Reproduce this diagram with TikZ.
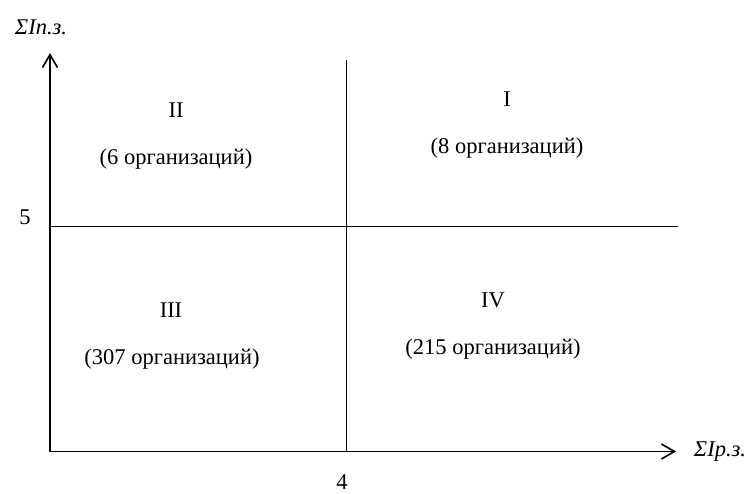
\documentclass[tikz,border=0pt]{standalone}
\usepackage{fontspec}
\setmainfont{Liberation Serif}
\usetikzlibrary{arrows.meta}
\begin{document}
\begin{tikzpicture}[x=1pt,y=-1pt,
  axis/.style={line width=1.8pt,-{Straight Barb[length=13pt,width=15pt,line width=1.6pt]}},
  divider/.style={line width=1.6pt},
  txt/.style={inner sep=0pt,font=\fontsize{22.5}{25}\selectfont},
  itxt/.style={inner sep=0pt,font=\fontsize{22.5}{25}\selectfont\itshape}]
\useasboundingbox (0,0) rectangle (751,494);
\coordinate (O) at (50,451.5);
\coordinate (ytip) at (50,53);
\coordinate (xtip) at (676,451.5);
\coordinate (vt) at (346.5,60);
\coordinate (vb) at (346.5,451.5);
\coordinate (hl) at (50,226.5);
\coordinate (hr) at (678,226.5);
\draw[divider] (vt) -- (vb);
\draw[divider] (hl) -- (hr);
\draw[axis] (O) -- (ytip);
\draw[axis] (O) -- (xtip);
\node[itxt] (ylab) at (41,27) {ΣIп.з.};
\node[itxt] (xlab) at (720,452) {ΣIр.з.};
\node[txt] (five) at (25,217) {5};
\node[txt] (four) at (342,482) {4};
\node[txt] (q2) at (176,110) {II};
\node[txt] (q2n) at (176,159) {(6 организаций)};
\node[txt] (q1) at (507,99) {I};
\node[txt] (q1n) at (507,148) {(8 организаций)};
\node[txt] (q3) at (171,310) {III};
\node[txt] (q3n) at (172,359) {(307 организаций)};
\node[txt] (q4) at (493,300) {IV};
\node[txt] (q4n) at (493,349) {(215 организаций)};
\end{tikzpicture}
\end{document}
